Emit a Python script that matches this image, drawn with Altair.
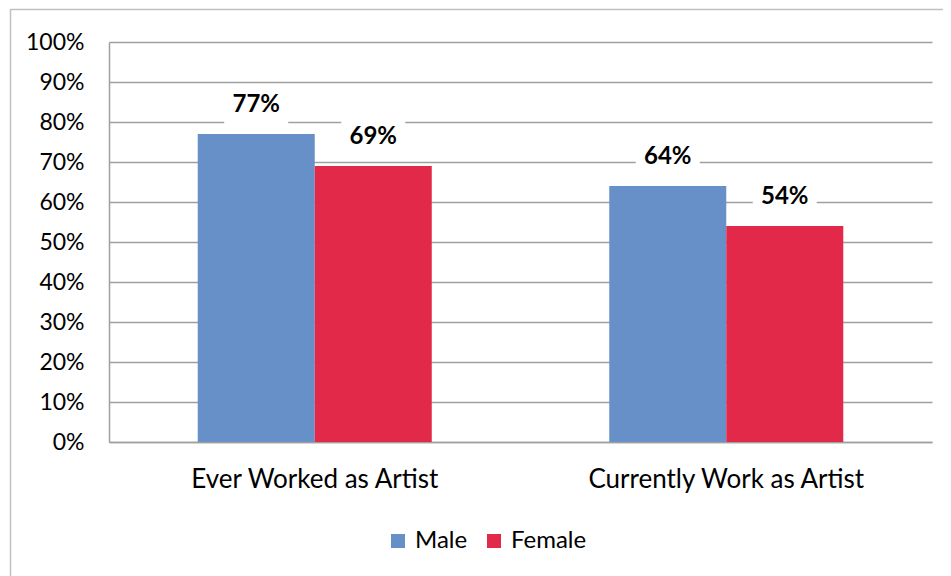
import altair as alt
import pandas as pd

categories = ["Ever Worked as Artist", "Currently Work as Artist"]
genders = ["Male", "Female"]
male = [0.77, 0.64]
female = [0.69, 0.54]
colors = ["#6790C9", "#E2294A"]
y_ticks = [i / 10 for i in range(11)]

rows = []
for i, c in enumerate(categories):
    rows.append({"category": c, "gender": "Male", "value": male[i]})
    rows.append({"category": c, "gender": "Female", "value": female[i]})
df = pd.DataFrame(rows)

W, H = 823, 400
FONT = "Lato"
GRID = "#a0a0a0"

x = alt.X(
    "category:N", sort=categories,
    scale=alt.Scale(paddingInner=0.4313, paddingOuter=0.2156),
    axis=alt.Axis(title=None, labelAngle=0, ticks=False, grid=False,
                  domainColor=GRID, domainWidth=1.5, labelFontSize=26,
                  labelPadding=24, labelFont=FONT, labelColor="black",
                  labelLimit=0),
)
xo = alt.XOffset("gender:N", sort=genders, scale=alt.Scale(paddingInner=0, paddingOuter=0))
y = alt.Y(
    "value:Q",
    scale=alt.Scale(domain=[0, 1], nice=False),
    axis=alt.Axis(values=y_ticks, format=".0%", title=None, ticks=False,
                  grid=True, gridColor=GRID, gridWidth=1.5,
                  domainColor=GRID, domainWidth=1.5, labelFontSize=23,
                  labelFont=FONT, labelColor="black", labelPadding=25),
)
color = alt.Color(
    "gender:N", sort=genders,
    scale=alt.Scale(domain=genders, range=colors),
    legend=alt.Legend(title=None, orient="none", legendX=277, legendY=487,
                      direction="horizontal", symbolType="square",
                      symbolSize=196, symbolStrokeWidth=0, labelFontSize=24,
                      labelFont=FONT, labelColor="black", columnPadding=14,
                      labelOffset=5),
)

base = alt.Chart(df)
bars = base.mark_bar(strokeWidth=0).encode(x=x, xOffset=xo, y=y, color=color)
boxes = base.mark_point(
    shape="M-1,-0.6L1,-0.6L1,0.6L-1,0.6Z", filled=True, fill="white",
    opacity=1, size=4096, yOffset=-29, strokeWidth=0,
).encode(x=x, xOffset=xo, y=y)
labels = base.mark_text(
    fontWeight="bold", fontSize=24, font=FONT, dy=-29, baseline="middle",
    color="black",
).encode(x=x, xOffset=xo, y=y, text=alt.Text("value:Q", format=".0%"))

border = alt.Chart(pd.DataFrame({"a": [0]})).mark_rect(
    fillOpacity=0, stroke="#c0c0c0", strokeWidth=1.5, clip=False,
).encode(x=alt.value(-98.5), x2=alt.value(W + 60), y=alt.value(-32.5), y2=alt.value(H + 200))

chart = alt.layer(border, bars, boxes, labels).properties(
    width=W, height=H, autosize="none",
    padding={"left": 101, "top": 34, "right": 11, "bottom": 134},
).configure_view(strokeWidth=0)

chart.save("out.html", embed_options={"renderer": "svg", "actions": False})
